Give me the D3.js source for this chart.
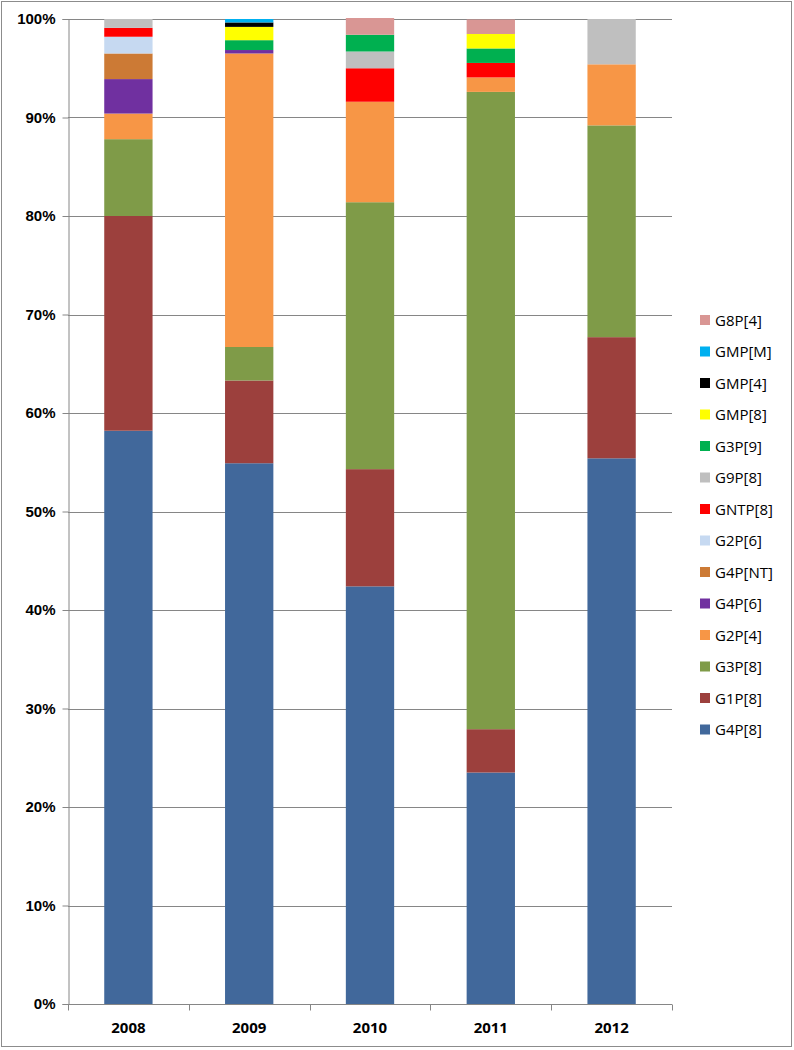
<!DOCTYPE html>
<html>
<head>
<meta charset="utf-8">
<script src="https://cdn.jsdelivr.net/npm/d3@7"></script>
<style>
  body { margin: 0; background: #fff; }
  svg { font-family: "Open Sans", "Liberation Sans", sans-serif; }
</style>
</head>
<body>
<div id="chart"></div>
<script>
// categories
var years = ["2008", "2009", "2010", "2011", "2012"];

// series (stack order, bottom first)
var seriesNames = ["G4P[8]", "G1P[8]", "G3P[8]", "G2P[4]", "G4P[6]", "G4P[NT]", "G2P[6]",
                   "GNTP[8]", "G9P[8]", "G3P[9]", "GMP[8]", "GMP[4]", "GMP[M]", "G8P[4]"];
var seriesColors = ["#41689B", "#9C403D", "#7F9B48", "#F79646", "#7030A0", "#CC7A35", "#C6D9F1",
                    "#FF0000", "#BFBFBF", "#00B050", "#FFFF00", "#000000", "#00B0F0", "#D99694"];

// percent values per series, one per year
var g4p8  = [58.2, 54.9, 42.4, 23.5, 55.4];
var g1p8  = [21.8, 8.4, 11.9, 4.4, 12.3];
var g3p8  = [7.8, 3.4, 27.1, 64.7, 21.5];
var g2p4  = [2.6, 29.8, 10.2, 1.47, 6.2];
var g4p6  = [3.5, 0.35, 0, 0, 0];
var g4pnt = [2.6, 0, 0, 0, 0];
var g2p6  = [1.7, 0, 0, 0, 0];
var gntp8 = [0.9, 0, 3.4, 1.47, 0];
var g9p8  = [0.9, 0, 1.7, 0, 4.6];
var g3p9  = [0, 1.0, 1.7, 1.47, 0];
var gmp8  = [0, 1.35, 0, 1.47, 0];
var gmp4  = [0, 0.45, 0, 0, 0];
var gmpm  = [0, 0.35, 0, 0, 0];
var g8p4  = [0, 0, 1.7, 1.47, 0];

var yTicks = [0, 10, 20, 30, 40, 50, 60, 70, 80, 90, 100];

var seriesValues = [g4p8, g1p8, g3p8, g2p4, g4p6, g4pnt, g2p6, gntp8, g9p8, g3p9, gmp8, gmp4, gmpm, g8p4];

var width = 794, height = 1050;
var plot = { left: 68, right: 672, top: 19, bottom: 1004 };

var svg = d3.select("#chart").append("svg")
    .attr("width", width)
    .attr("height", height);

// outer border
svg.append("rect")
    .attr("x", 1.5).attr("y", 1.5)
    .attr("width", width - 4).attr("height", height - 5)
    .attr("fill", "#fff")
    .attr("stroke", "#8c8c8c")
    .attr("stroke-width", 1);

var x = d3.scaleBand()
    .domain(years)
    .range([plot.left, plot.right])
    .paddingInner(0.6)
    .paddingOuter(0.3);

var y = d3.scaleLinear()
    .domain([0, 100])
    .range([plot.bottom, plot.top]);

// gridlines
svg.append("g")
  .selectAll("line")
  .data(yTicks.slice(1))
  .enter().append("line")
    .attr("x1", plot.left).attr("x2", plot.right)
    .attr("y1", function(d) { return Math.round(y(d)) + 0.5; })
    .attr("y2", function(d) { return Math.round(y(d)) + 0.5; })
    .attr("stroke", "#868686")
    .attr("stroke-width", 1);

// table for stacking
var table = years.map(function(yr, i) {
    var row = { year: yr };
    seriesNames.forEach(function(s, j) { row[s] = seriesValues[j][i]; });
    return row;
});

var stack = d3.stack().keys(seriesNames);
var layers = stack(table);

svg.append("g")
  .selectAll("g")
  .data(layers)
  .enter().append("g")
    .attr("fill", function(d, i) { return seriesColors[i]; })
  .selectAll("rect")
  .data(function(d) { return d; })
  .enter().append("rect")
    .attr("x", function(d) { return x(d.data.year); })
    .attr("width", x.bandwidth())
    .attr("y", function(d) { return y(d[1]); })
    .attr("height", function(d) { return y(d[0]) - y(d[1]); });

// y axis
var yAxis = svg.append("g")
    .attr("transform", "translate(" + (plot.left + 0.5) + ",0)")
    .call(d3.axisLeft(y).tickValues(yTicks).tickSize(6).tickPadding(7)
          .tickFormat(function(d) { return d + "%"; }));
yAxis.select(".domain").attr("stroke", "#868686");
yAxis.selectAll(".tick line").attr("stroke", "#868686");
yAxis.selectAll("text")
    .attr("font-size", 15)
    .attr("font-weight", "bold")
    .attr("fill", "#000");

// x axis
var xAxisG = svg.append("g")
    .attr("transform", "translate(0," + (plot.bottom + 0.5) + ")");
xAxisG.append("line")
    .attr("x1", plot.left).attr("x2", plot.right)
    .attr("stroke", "#868686");
var bounds = d3.range(years.length + 1).map(function(i) {
    return plot.left + i * (plot.right - plot.left) / years.length;
});
xAxisG.selectAll("line.tk")
  .data(bounds)
  .enter().append("line")
    .attr("class", "tk")
    .attr("x1", function(d) { return Math.round(d) + 0.5; })
    .attr("x2", function(d) { return Math.round(d) + 0.5; })
    .attr("y1", 0).attr("y2", 6)
    .attr("stroke", "#868686");
xAxisG.selectAll("text")
  .data(years)
  .enter().append("text")
    .attr("x", function(d) { return x(d) + x.bandwidth() / 2; })
    .attr("y", 28)
    .attr("text-anchor", "middle")
    .attr("font-size", 15)
    .attr("font-weight", "bold")
    .text(function(d) { return d; });

// legend (top entry is last series)
var legendOrder = seriesNames.slice().reverse();
var legend = svg.append("g")
  .selectAll("g")
  .data(legendOrder)
  .enter().append("g")
    .attr("transform", function(d, i) { return "translate(700," + (320 + i * 31.5) + ")"; });
legend.append("rect")
    .attr("x", 0).attr("y", -5)
    .attr("width", 10).attr("height", 10)
    .attr("fill", function(d) { return seriesColors[seriesNames.indexOf(d)]; });
legend.append("text")
    .attr("x", 15).attr("y", 5.5)
    .attr("font-size", 15)
    .attr("fill", "#000")
    .text(function(d) { return d; });
</script>
</body>
</html>
